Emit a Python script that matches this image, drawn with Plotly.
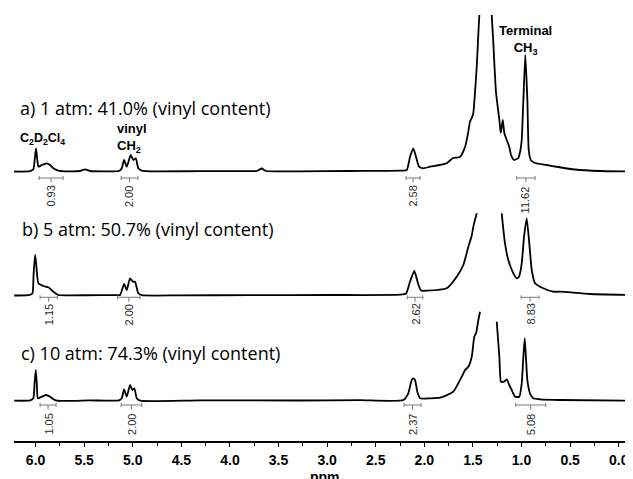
import plotly.graph_objects as go

OFF = 8  # the page body margin shifts the figure by this many pixels
W, H = 633 - OFF, 479 - OFF

# ---------------- data ----------------
# a) 1 atm
ppm_a = [6.22, 6.056, 6.023, 6.007, 5.995, 5.983, 5.971, 5.936, 5.885, 5.851, 5.817, 5.765,
         5.696, 5.542, 5.491, 5.44, 5.234, 5.142, 5.113, 5.09, 5.062, 5.021, 4.994, 4.969,
         4.943, 4.907, 4.822, 4.307, 3.793, 3.721, 3.673, 3.629, 3.279, 2.764, 2.25, 2.181,
         2.147, 2.113, 2.086, 2.055, 2.01, 1.941, 1.838, 1.77, 1.705, 1.633, 1.581, 1.55,
         1.53, 1.512, 1.496, 1.478, 1.461, 1.448, 1.434, 1.417, 1.376, 1.334, 1.324, 1.307,
         1.29, 1.278, 1.262, 1.228, 1.214, 1.193, 1.177, 1.152, 1.126, 1.108, 1.077, 1.033,
         1.01, 0.998, 0.981, 0.961, 0.94, 0.926, 0.905, 0.861, 0.741, 0.624, 0.45, 0.192, -0.147]
int_a = [0, 0.3, 2.2, 14, 23.2, 12, 4.8, 6.5, 8.2, 6.5, 3.2, 0.8,
         0.2, 0.5, 2.2, 0.5, 0.2, 0.5, 3.2, 11.5, 4.8, 16.5, 11.5, 13.2,
         3.2, 0.8, 0.2, 0.3, 0.3, 0.5, 3.0, 0.5, 0.2, 0.5, 0.8, 1.5,
         14.8, 23.2, 14.8, 4.8, 3.2, 4.8, 6.5, 8.2, 13.5, 14.5, 24.5, 38.5,
         50, 53.5, 58.5, 80, 104.5, 130, 156.5, 175, 250, 250, 190, 156.5,
         128.5, 105, 78.5, 51.5, 38.5, 51.5, 38.5, 31.5, 24.5, 16.5, 11.5, 13.5,
         22, 31.5, 71.5, 116.5, 71.5, 21.5, 11.5, 8.5, 6.5, 4.5, 2, 0.5, 0]

# b) 5 atm
ppm_b = [6.22, 6.076, 6.033, 6.021, 6.005, 5.992, 5.971, 5.919, 5.868, 5.817, 5.765, 5.645,
         5.336, 5.161, 5.13, 5.089, 5.062, 5.028, 5.0, 4.977, 4.943, 4.907, 4.513, 3.793,
         2.97, 2.25, 2.188, 2.147, 2.103, 2.065, 2.034, 1.975, 1.77, 1.667, 1.599, 1.547,
         1.512, 1.496, 1.478, 1.461, 1.448, 1.221, 1.204, 1.17, 1.136, 1.084, 1.049, 1.026,
         0.998, 0.974, 0.947, 0.92, 0.895, 0.861, 0.776, 0.676, 0.604, 0.295, -0.147]
int_b = [0, 0.3, 2, 20, 40.5, 30, 12.2, 9.5, 8.2, 3.8, 0.5, 0.2,
         0.3, 0.3, 0.5, 11.5, 5.5, 17.2, 13.8, 13.8, 2.2, 0.3, 0.2, 0.3,
         0.5, 0.8, 2, 14, 24.5, 12, 5, 4.8, 7.2, 18.8, 30.5, 48.8,
         60, 68.8, 76, 82.2, 100, 100, 82.2, 52.2, 35.5, 22.2, 17.2, 18.8,
         32.2, 58.8, 77.2, 52.2, 25.5, 12.2, 7.2, 3.8, 3.8, 1.5, 0.5]

# c) 10 atm  (None = the line is not drawn there)
ppm_c = [6.22, 6.056, 6.023, 6.01, 5.998, 5.986, 5.977, 5.936, 5.891, 5.85, 5.816, 5.782,
         5.439, 5.142, 5.113, 5.09, 5.062, 5.028, 5.004, 4.983, 4.959, 4.924, 4.307, 3.279,
         2.662, 2.216, 2.165, 2.13, 2.113, 2.096, 2.072, 2.044, 1.941, 1.838, 1.702, 1.615,
         1.581, 1.547, 1.512, 1.486, 1.468, 1.444, 1.427, 1.34, 1.255, 1.228, 1.211, 1.18,
         1.152, 1.126, 1.101, 1.067, 1.023, 0.998, 0.981, 0.967, 0.953, 0.94, 0.913, 0.879,
         0.81, 0.604, -0.147]
int_c = [0, 0.3, 2.4, 18, 30.7, 15, 2.4, 4, 5.7, 4, 1.4, 0,
         0.3, 0.3, 2.4, 11.4, 4, 15.7, 10.7, 12.4, 2.4, 0, 0.3, 0.2,
         0.5, 0.7, 7.4, 20.7, 22.4, 20.7, 9, 2.4, 2.4, 3, 9, 24,
         30.7, 34, 44, 64, 67.4, 80.7, 89, None, 79, 44, 19, 19,
         21.4, 15.7, 10.7, 4, 4, 17.4, 44, 62.4, 40.7, 20.7, 7.4, 2.4,
         1.4, 0.7, 0]

# integrations: range (ppm) and value
integ_a_hi = [5.964, 5.120, 2.188, 1.049]
integ_a_lo = [5.717, 4.946, 2.044, 0.861]
integ_a_val = ["0.93", "2.00", "2.58", "11.62"]
integ_b_hi = [5.954, 5.154, 2.175, 1.005]
integ_b_lo = [5.776, 4.925, 2.016, 0.820]
integ_b_val = ["1.15", "2.00", "2.62", "8.83"]
integ_c_hi = [5.954, 5.120, 2.209, 1.060]
integ_c_lo = [5.789, 4.907, 2.034, 0.751]
integ_c_val = ["1.05", "2.00", "2.37", "5.08"]

titles = ["a) 1 atm: 41.0% (vinyl content)",
          "b) 5 atm: 50.7% (vinyl content)",
          "c) 10 atm: 74.3% (vinyl content)"]

x_ticks = [6.0, 5.5, 5.0, 4.5, 4.0, 3.5, 3.0, 2.5, 2.0, 1.5, 1.0, 0.5, 0.0]

# ---------------- layout helpers (page pixels -> figure paper coords) ----------------
def py(p):
    return 1 - (p - OFF) / H

def px(p):
    return (p - OFF) / W

# panel: (top px, bottom px, baseline px, integral line px, label top px, title centre px, title left px)
panels = [
    (15.0, 205.0, 171.5, 178.0, 184.0, 107.5, 17.5),
    (213.3, 305.0, 295.5, 297.3, 302.0, 228.5, 20.0),
    (311.0, 430.0, 400.7, 405.0, 412.0, 353.0, 19.0),
]
spectra = [(ppm_a, int_a), (ppm_b, int_b), (ppm_c, int_c)]
integs = [(integ_a_hi, integ_a_lo, integ_a_val),
          (integ_b_hi, integ_b_lo, integ_b_val),
          (integ_c_hi, integ_c_lo, integ_c_val)]

fig = go.Figure()
shapes = []
annotations = []
axis_names = ["y", "y2", "y3"]
layout_axes = {}

for i, ((top, bot, base, iline, ltop, tcen, tleft), (xs, ys), (hi, lo, vals)) in enumerate(
        zip(panels, spectra, integs)):
    fig.add_trace(go.Scatter(x=xs, y=ys, mode="lines", xaxis="x", yaxis=axis_names[i],
                             line=dict(color="black", width=1.8, shape="spline", smoothing=0.5),
                             connectgaps=False, hoverinfo="skip", showlegend=False))
    key = "yaxis" if i == 0 else f"yaxis{i+1}"
    layout_axes[key] = dict(domain=[py(bot), py(top)], range=[base - bot, base - top],
                            anchor="x", visible=False, fixedrange=True)
    gray = "#7a7a7a"
    for h, l, v in zip(hi, lo, vals):
        c = (h + l) / 2
        shapes.append(dict(type="line", xref="x", yref="paper", x0=h, x1=l,
                           y0=py(iline), y1=py(iline), line=dict(color=gray, width=1)))
        for e in (h, l):
            shapes.append(dict(type="line", xref="x", yref="paper", x0=e, x1=e,
                               y0=py(iline - 2), y1=py(iline + 2), line=dict(color=gray, width=1)))
        shapes.append(dict(type="line", xref="x", yref="paper", x0=c, x1=c,
                           y0=py(iline), y1=py(iline + 4.5), line=dict(color=gray, width=1)))
        annotations.append(dict(x=c, xref="x", y=py(ltop), yref="paper", text=v,
                                textangle=-90, showarrow=False, xanchor="center", yanchor="top",
                                font=dict(family="Liberation Sans, Arial", size=11, color="#2a2a2a")))
    annotations.append(dict(x=px(tleft), y=py(tcen), xref="paper", yref="paper", text=titles[i],
                            showarrow=False, xanchor="left", yanchor="middle",
                            font=dict(family="Open Sans", size=18, color="black")))

lab_font = dict(family="Liberation Sans, Arial", size=13, color="black", weight="bold")
annotations += [
    dict(x=px(17.5), y=py(138.5), xref="paper", yref="paper", xanchor="left", yanchor="middle",
         text="C<sub>2</sub>D<sub>2</sub>Cl<sub>4</sub>", showarrow=False,
         font=dict(family="Liberation Sans, Arial", size=12.5, color="black", weight="bold")),
    dict(x=px(115), y=py(138), xref="paper", yref="paper", xanchor="left", yanchor="middle",
         text="vinyl<br>CH<sub>2</sub>", align="left", showarrow=False, font=lab_font),
    dict(x=px(525.5), y=py(40), xref="paper", yref="paper", xanchor="center", yanchor="middle",
         text="Terminal<br>CH<sub>3</sub>", align="center", showarrow=False, font=lab_font),
    dict(x=px(325), y=py(477), xref="paper", yref="paper", xanchor="center", yanchor="middle",
         text="ppm", showarrow=False, font=dict(family="Liberation Sans, Arial", size=14,
                                                 color="black", weight="bold")),
]

fig.update_layout(
    width=W, height=H, margin=dict(l=0, r=0, t=0, b=0, autoexpand=False),
    paper_bgcolor="white", plot_bgcolor="white",
    xaxis=dict(domain=[px(14), px(633)], range=[6.222, -0.147], anchor="free", position=py(442.3),
               showline=True, linecolor="black", linewidth=1.5, showgrid=False, zeroline=False,
               ticks="outside", ticklen=4, tickwidth=1.3, tickcolor="black",
               tickvals=x_ticks, ticktext=[f"{t:.1f}" for t in x_ticks], ticklabelstandoff=1,
               tickfont=dict(family="Liberation Sans, Arial", size=14, color="black", weight="bold"),
               minor=dict(dtick=0.25, tick0=0, ticks="outside", ticklen=3, tickcolor="black",
                          tickwidth=1),
               fixedrange=True),
    shapes=shapes, annotations=annotations, showlegend=False,
    **layout_axes,
)

fig.write_html("out.html")
